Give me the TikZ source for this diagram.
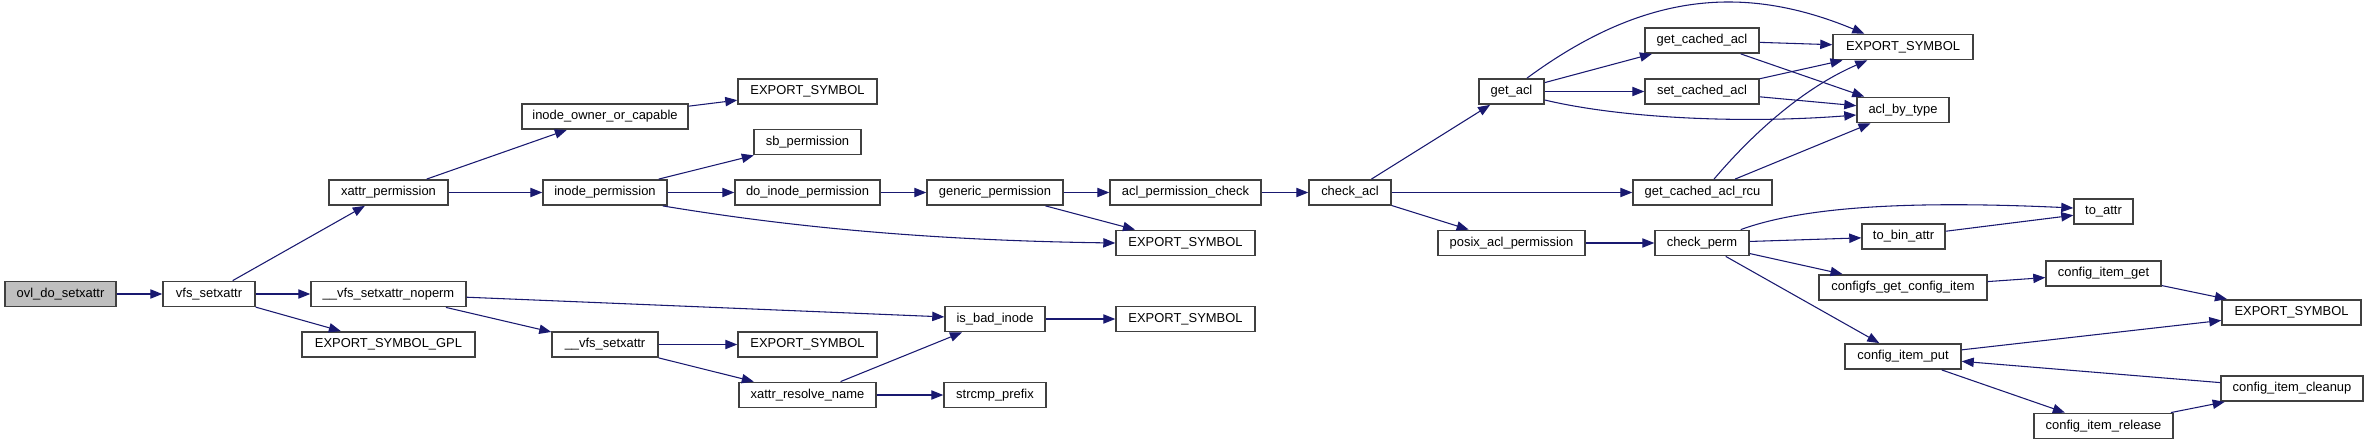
\documentclass[tikz,border=0pt]{standalone}
\usepackage{fontspec}
\setmainfont{Liberation Sans}
\usetikzlibrary{arrows.meta,calc}
\definecolor{edgec}{HTML}{191970}
\definecolor{boxc}{HTML}{404040}
\definecolor{rootc}{HTML}{BFBFBF}
\begin{document}
\begin{tikzpicture}[x=0.75pt,y=-0.75pt,
  box/.style={draw=boxc,line width=1.1pt,fill=white,rectangle,inner sep=0pt,
    minimum height=19pt,font=\fontsize{9.7}{11}\selectfont,text=black},
  root/.style={box,fill=rootc},
  bw/.style={minimum width=#1*0.75pt},
  edge/.style={draw=edgec,line width=0.8pt,-{Triangle[length=9pt,width=7pt]}}]
\useasboundingbox (0,0) rectangle (2368,445);
% nodes
\node[root,bw=111] (ovl) at (60.5,294) {ovl\_do\_setxattr};
\node[box,bw=92] (vfs) at (209,294) {vfs\_setxattr};
\node[box,bw=119] (xperm) at (388.5,192.5) {xattr\_permission};
\node[box,bw=155] (noperm) at (388.5,294) {\_\_vfs\_setxattr\_noperm};
\node[box,bw=173] (gpl) at (388.5,344.5) {EXPORT\_SYMBOL\_GPL};
\node[box,bw=166] (iowner) at (605,116.5) {inode\_owner\_or\_capable};
\node[box,bw=124] (iperm) at (605,192.5) {inode\_permission};
\node[box,bw=106] (vfsx) at (605,344.5) {\_\_vfs\_setxattr};
\node[box,bw=139] (expa) at (807.5,91.5) {EXPORT\_SYMBOL};
\node[box,bw=107] (sbperm) at (807.5,142) {sb\_permission};
\node[box,bw=145] (doiperm) at (807.5,192.5) {do\_inode\_permission};
\node[box,bw=139] (expb) at (807.5,344.5) {EXPORT\_SYMBOL};
\node[box,bw=137] (xres) at (807.5,395) {xattr\_resolve\_name};
\node[box,bw=136] (generic) at (995,192.5) {generic\_permission};
\node[box,bw=100] (isbad) at (995,319) {is\_bad\_inode};
\node[box,bw=102] (strcmp) at (995,395) {strcmp\_prefix};
\node[box,bw=151] (aclcheck) at (1185.5,192.5) {acl\_permission\_check};
\node[box,bw=139] (expc) at (1185.5,243) {EXPORT\_SYMBOL};
\node[box,bw=139] (expd) at (1185.5,319) {EXPORT\_SYMBOL};
\node[box,bw=82] (checkacl) at (1350,192.5) {check\_acl};
\node[box,bw=65] (getacl) at (1511.5,91.5) {get\_acl};
\node[box,bw=147] (posix) at (1511.5,243) {posix\_acl\_permission};
\node[box,bw=114] (gca) at (1702,40.5) {get\_cached\_acl};
\node[box,bw=114] (sca) at (1702,91.5) {set\_cached\_acl};
\node[box,bw=139] (rcu) at (1702.5,192.5) {get\_cached\_acl\_rcu};
\node[box,bw=94] (checkperm) at (1702,243) {check\_perm};
\node[box,bw=140] (expe) at (1903,47) {EXPORT\_SYMBOL};
\node[box,bw=92] (abt) at (1903,110) {acl\_by\_type};
\node[box,bw=83] (tobin) at (1903.5,236.5) {to\_bin\_attr};
\node[box,bw=168] (configfs) at (1903,287.5) {configfs\_get\_config\_item};
\node[box,bw=116] (cip) at (1903,356.5) {config\_item\_put};
\node[box,bw=59] (toattr) at (2103.5,211.5) {to\_attr};
\node[box,bw=115] (cig) at (2103.5,273.5) {config\_item\_get};
\node[box,bw=139] (expf) at (2291.5,312.5) {EXPORT\_SYMBOL};
\node[box,bw=142] (cic) at (2292,388.5) {config\_item\_cleanup};
\node[box,bw=139] (cir) at (2103.5,426) {config\_item\_release};
% edges
\draw[edge] (ovl) -- (vfs);
\draw[edge] (vfs) -- (xperm);
\draw[edge] (vfs) -- (noperm);
\draw[edge] (vfs) -- (gpl);
\draw[edge] (xperm) -- (iowner);
\draw[edge] (xperm) -- (iperm);
\draw[edge] (iowner) -- (expa);
\draw[edge] (iperm) -- (sbperm);
\draw[edge] (iperm) -- (doiperm);
\draw[edge] ($(iperm.south east)+(-5,0)$) .. controls (760,222) and (900,240) .. (expc.west);
\draw[edge] (doiperm) -- (generic);
\draw[edge] (generic) -- (aclcheck);
\draw[edge] (generic) -- (expc);
\draw[edge] (aclcheck) -- (checkacl);
\draw[edge] (checkacl) -- (getacl);
\draw[edge] (checkacl) -- (rcu);
\draw[edge] (checkacl) -- (posix);
\draw[edge] ($(getacl.north)+(15.5,0)$) .. controls (1640,-5) and (1740,-18) .. ($(expe.north west)+(32,0)$);
\draw[edge] (getacl) -- (gca);
\draw[edge] (getacl) -- (sca);
\draw[edge] ($(getacl.east)+(0,8.5)$) .. controls (1620,118) and (1740,124) .. ($(abt.west)+(0,5)$);
\draw[edge] (gca) -- (expe);
\draw[edge] (gca) -- (abt);
\draw[edge] (sca) -- (expe);
\draw[edge] (sca) -- (abt);
\draw[edge] ($(rcu.north)+(11.5,0)$) .. controls (1760,125) and (1810,85) .. ($(expe.south west)+(35,0)$);
\draw[edge] (rcu) -- (abt);
\draw[edge] (posix) -- (checkperm);
\draw[edge] ($(checkperm.north east)+(-9,0)$) .. controls (1800,208) and (1900,200) .. ($(toattr.west)+(0,-3.5)$);
\draw[edge] (checkperm) -- (tobin);
\draw[edge] (checkperm) -- (configfs);
\draw[edge] (checkperm) -- (cip);
\draw[edge] (tobin) -- (toattr);
\draw[edge] (configfs) -- (cig);
\draw[edge] (cig) -- (expf);
\draw[edge] (cip) -- (expf);
\draw[edge] (cip) -- (cir);
\draw[edge] (cir) -- (cic);
\draw[edge] (cic) -- (cip);
\draw[edge] (noperm) -- (isbad);
\draw[edge] (noperm) -- (vfsx);
\draw[edge] (vfsx) -- (expb);
\draw[edge] (vfsx) -- (xres);
\draw[edge] (xres) -- (isbad);
\draw[edge] (xres) -- (strcmp);
\draw[edge] (isbad) -- (expd);
\end{tikzpicture}
\end{document}
